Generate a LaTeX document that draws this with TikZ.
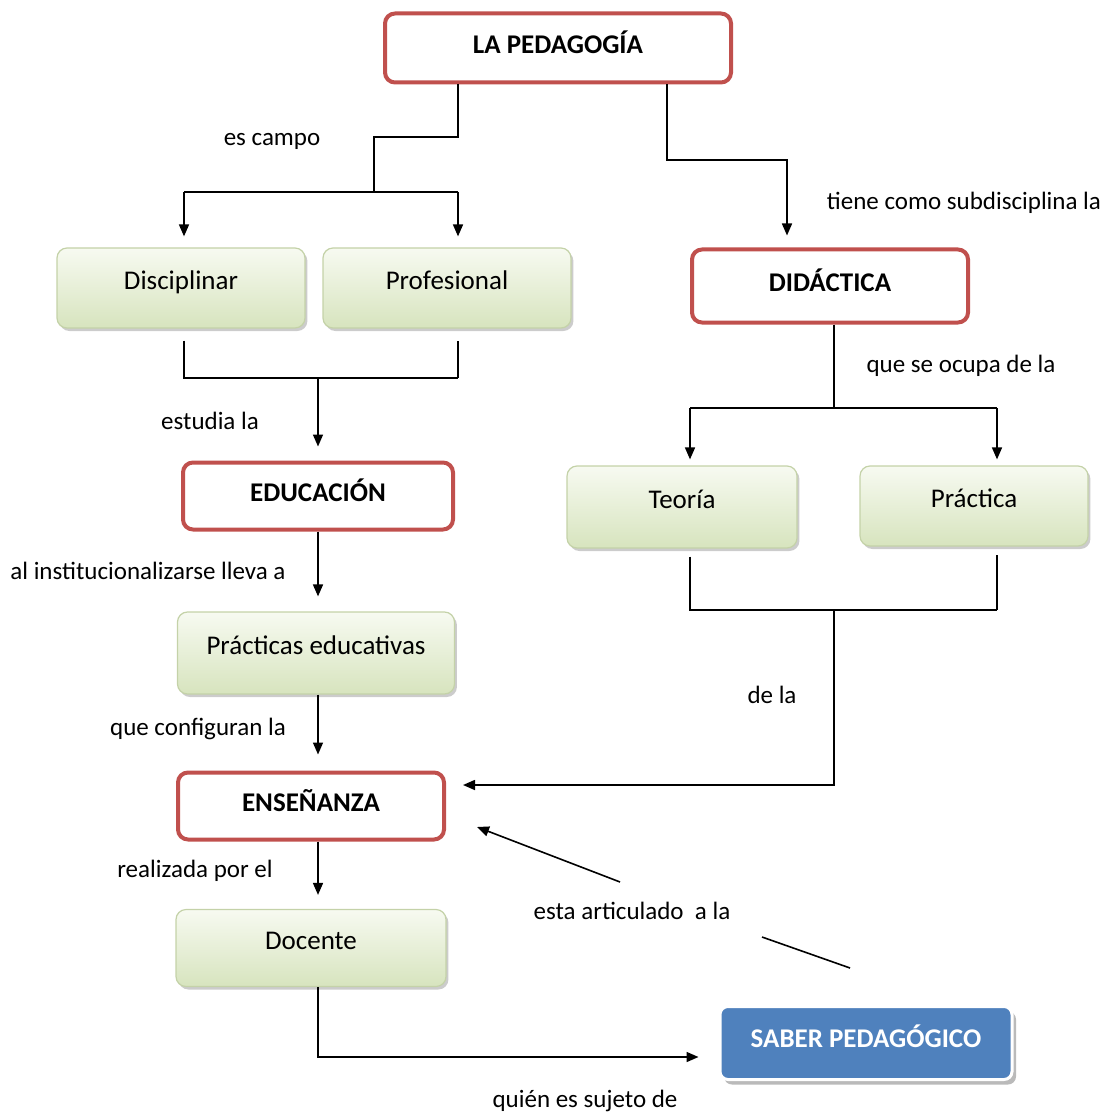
\documentclass[tikz,border=0pt]{standalone}
\usepackage{fontspec}
\setmainfont{Carlito}
\usetikzlibrary{arrows.meta,shadows}
\definecolor{redline}{RGB}{192,80,77}
\definecolor{greentop}{RGB}{247,250,241}
\definecolor{greenbot}{RGB}{215,228,190}
\definecolor{greenline}{RGB}{196,210,168}
\definecolor{saberblue}{RGB}{79,129,189}
\tikzset{
  redbox/.style={draw=redline, line width=2pt, fill=white, rounded corners=5pt,
    font=\bfseries\fontsize{13.5}{16}\selectfont, text height=10pt, text depth=4.5pt},
  greenbox/.style={draw=greenline, line width=0.6pt, top color=greentop, bottom color=greenbot,
    rounded corners=5pt, font=\fontsize{13.5}{16}\selectfont, text height=10pt, text depth=8.5pt,
    drop shadow={shadow xshift=1.2pt, shadow yshift=-1.5pt, fill=black!40, opacity=0.5}},
  saberbox/.style={draw=white, line width=1.5pt, fill=saberblue, rounded corners=4pt, text=white,
    font=\bfseries\fontsize{13.5}{16}\selectfont, text height=11pt, text depth=7pt,
    drop shadow={shadow xshift=2pt, shadow yshift=-2.5pt, fill=black!45, opacity=0.6}},
  lbl/.style={font=\fontsize{12.5}{15}\selectfont, inner sep=0pt},
  flecha/.style={-{Triangle[length=6pt,width=5pt]}, line width=0.8pt},
  linea/.style={line width=0.8pt}
}
\begin{document}
\begin{tikzpicture}[x=0.5pt, y=-0.5pt]
\useasboundingbox (0,0) rectangle (1117,1117);
\node[redbox, minimum width=173pt, minimum height=34.5pt] (ped) at (558,48) {LA PEDAGOGÍA};
\node[greenbox, minimum width=124pt, minimum height=40pt] (disc) at (181,288) {Disciplinar};
\node[greenbox, minimum width=124pt, minimum height=40pt] (prof) at (447,288) {Profesional};
\node[redbox, minimum width=138pt, minimum height=36.5pt] (did) at (830,286) {DIDÁCTICA};
\node[redbox, minimum width=135pt, minimum height=33.5pt] (edu) at (318,496) {EDUCACIÓN};
\node[greenbox, minimum width=115pt, minimum height=41pt] (teo) at (682,507) {Teoría};
\node[greenbox, minimum width=114pt, minimum height=40pt] (pra) at (974,506) {Práctica};
\node[greenbox, minimum width=138.5pt, minimum height=41pt] (pract) at (316,653) {Prácticas educativas};
\node[redbox, minimum width=133pt, minimum height=33.5pt] (ens) at (311,806) {ENSEÑANZA};
\node[greenbox, minimum width=135pt, minimum height=38.5pt] (doc) at (311,948) {Docente};
\node[saberbox, minimum width=146pt, minimum height=36.5pt] (saber) at (866,1043) {SABER PEDAGÓGICO};
\foreach \n/\x/\y/\t in {campo/272/141/es campo, sub/964/203/tiene como subdisciplina la,
  estudia/210/421/estudia la, ocupa/961/366/que se ocupa de la,
  lleva/148/571/al institucionalizarse lleva a, dela/772/695/de la,
  configuran/198/729/que configuran la, realizada/195/871/realizada por el,
  articulado/632/911/esta articulado\ \ a la, sujeto/585/1101/quién es sujeto de}
  \node[lbl] (l\n) at (\x,\y) {\t};
% es campo
\coordinate (kink1) at (374,137);
\coordinate (campo) at (374,192);
\coordinate (campoL) at (184,192);
\coordinate (campoR) at (458,192);
\draw[linea] (ped.south -| campoR) |- (kink1) -- (campo);
\draw[linea] (campoL) -- (campoR);
\draw[flecha, shorten >=5.5pt] (campoL) -- (campoL |- disc.north);
\draw[flecha, shorten >=5.5pt] (campoR) -- (campoR |- prof.north);
% subdisciplina
\coordinate (kink2a) at (667,160);
\coordinate (kink2b) at (787,160);
\draw[flecha, shorten >=6pt] (ped.south -| kink2a) -- (kink2a) -- (kink2b) -- (kink2b |- did.north);
% estudia
\coordinate (estL) at (184,378);
\coordinate (estR) at (458,378);
\coordinate (est) at (318,378);
\draw[linea, shorten <=6pt] (disc.south -| estL) -- (estL) -- (estR);
\draw[linea, shorten >=6pt] (estR) -- (prof.south -| estR);
\draw[flecha, shorten >=7pt] (est) -- (est |- edu.north);
\draw[flecha, shorten >=7.5pt] (edu.south -| est) -- (est |- pract.north);
\draw[flecha, shorten >=8pt] (pract.south -| est) -- (est |- ens.north);
\draw[flecha, shorten >=7pt] (ens.south -| est) -- (est |- doc.north);
% sujeto
\coordinate (suj) at (318,1057);
\draw[flecha, shorten >=10pt] (doc.south -| suj) -- (suj) -- (suj -| saber.west);
% ocupa
\coordinate (ocu) at (834,408);
\coordinate (ocuL) at (690,408);
\coordinate (ocuR) at (997,408);
\draw[linea] (did.south -| ocu) -- (ocu);
\draw[linea] (ocuL) -- (ocuR);
\draw[flecha, shorten >=3pt] (ocuL) -- (ocuL |- teo.north);
\draw[flecha, shorten >=3pt] (ocuR) -- (ocuR |- pra.north);
% de la
\coordinate (delL) at (690,610);
\coordinate (delR) at (997,610);
\coordinate (del) at (834,610);
\coordinate (delK) at (834,785);
\draw[linea, shorten <=4pt] (teo.south -| delL) -- (delL) -- (delR);
\draw[linea, shorten >=4pt] (delR) -- (pra.south -| delR);
\draw[flecha, shorten >=8.5pt] (del) -- (delK) -- (delK -| ens.east);
% articulado
\coordinate (art1) at (850,968);
\coordinate (art2) at (762,937);
\coordinate (art3) at (620,882);
\coordinate (art4) at (477,827);
\draw[linea] (art1) -- (art2);
\draw[flecha] (art3) -- (art4);
\end{tikzpicture}
\end{document}
